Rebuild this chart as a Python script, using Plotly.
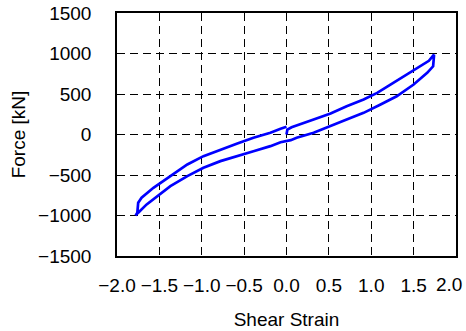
import plotly.graph_objects as go

# Hysteresis loop: shear strain vs force
shear_strain = [
    0.00, 0.01, 0.06, 0.16, 0.32, 0.52, 0.71, 0.91, 1.07, 1.26, 1.42, 1.58, 1.68, 1.74,
    1.74, 1.73, 1.66, 1.50, 1.30, 1.11, 0.91, 0.71, 0.52, 0.32, 0.12, 0.05, -0.07,
    -0.19, -0.39, -0.58, -0.78, -0.98, -1.17, -1.37, -1.53, -1.65, -1.75, -1.78,
    -1.76, -1.75, -1.71, -1.57, -1.37, -1.17, -0.98, -0.78, -0.58, -0.39, -0.19, -0.07, 0.00,
]
force_kN = [
    0, 60, 90, 123, 185, 259, 349, 432, 514, 637, 740, 842, 910, 986,
    966, 842, 761, 617, 472, 370, 267, 185, 103, 21, -41, -70, -95,
    -144, -206, -267, -329, -411, -514, -637, -760, -863, -965, -999,
    -965, -842, -781, -658, -514, -370, -267, -185, -111, -41, 21, 70, 95,
]

x_ticks = [-2.0, -1.5, -1.0, -0.5, 0.0, 0.5, 1.0, 1.5, 2.0]
x_tick_text = ["\u22122.0", "\u22121.5", "\u22121.0", "\u22120.5", "0.0", "0.5", "1.0", "1.5", "2.0"]
y_ticks = [-1500, -1000, -500, 0, 500, 1000, 1500]
y_tick_text = ["\u22121500", "\u22121000", "\u2212500", "0", "500", "1000", "1500"]

font_family = "Liberation Sans"
font_size = 19

fig = go.Figure()
fig.add_trace(go.Scatter(
    x=shear_strain, y=force_kN, mode="lines",
    line=dict(color="#0000FF", width=2.7),
    showlegend=False,
))

axis_common = dict(
    showline=True, linecolor="black", linewidth=1.5, mirror=True,
    showgrid=True, gridcolor="black", gridwidth=1, griddash="8px,5px",
    zeroline=False, ticks="", automargin=False,
    tickfont=dict(family=font_family, size=font_size, color="black"),
    title_font=dict(family=font_family, size=font_size, color="black"),
)

# last x label is pulled inward so it fits in the picture (as in the reference)
x_text_shown = x_tick_text[:-1] + [""]

fig.update_xaxes(
    range=[-2.0, 2.0], tickvals=x_ticks, ticktext=x_text_shown,
    title_text="Shear Strain", title_standoff=18, ticklabelstandoff=11,
    **axis_common,
)
fig.update_yaxes(
    range=[-1500, 1500], tickvals=y_ticks, ticktext=y_tick_text,
    title_text="Force [kN]", title_standoff=7, ticklabelstandoff=20,
    **axis_common,
)

fig.add_annotation(
    x=x_ticks[-1], xref="x", y=0, yref="paper",
    text=x_tick_text[-1], showarrow=False,
    xanchor="right", yanchor="top", xshift=8, yshift=-16,
    font=dict(family=font_family, size=font_size, color="black"),
)

fig.update_layout(
    width=466, height=331,
    margin=dict(l=117, r=10, t=13, b=75),
    paper_bgcolor="white", plot_bgcolor="white",
    font=dict(family=font_family, size=font_size, color="black"),
)

fig.write_html(
    "out.html",
    config={"displayModeBar": False},
    post_script="document.body.style.margin='0';document.body.style.overflow='hidden';",
)
